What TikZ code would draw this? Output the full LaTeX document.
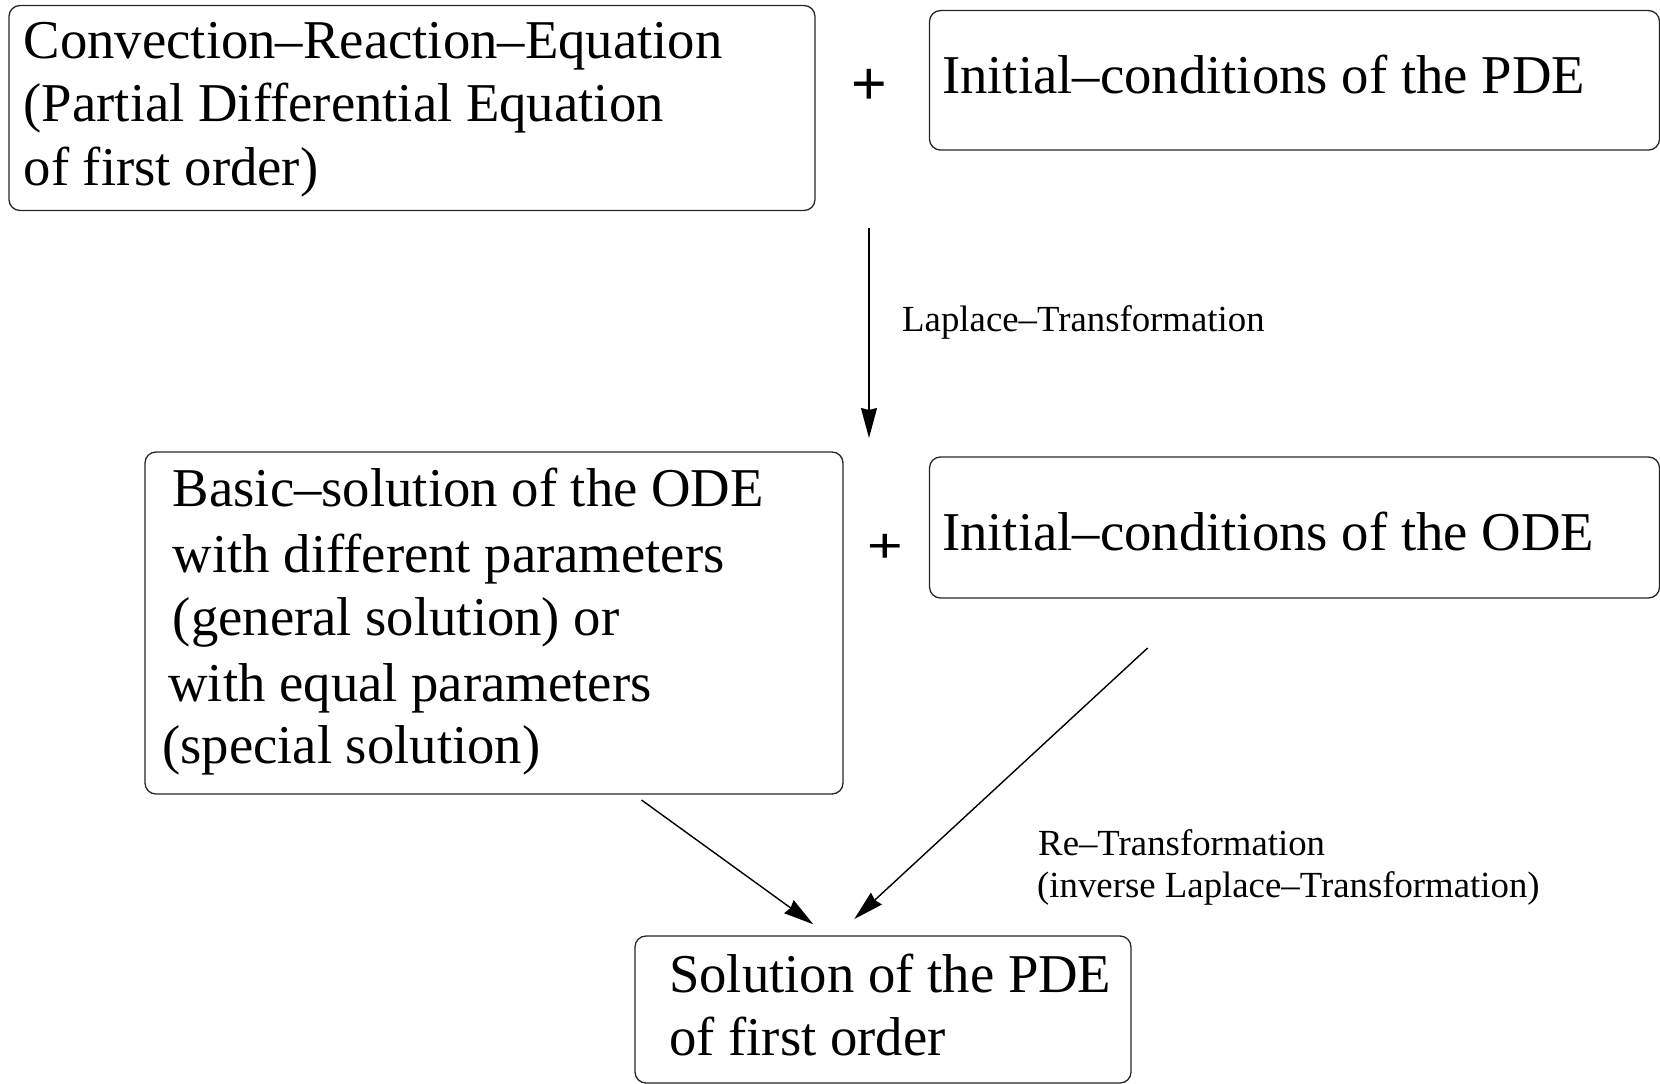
\documentclass[tikz,border=0pt]{standalone}
\usepackage{fontspec}
\usepackage{graphicx}
\setmainfont{Liberation Serif}
\newfontfamily\plusfamily{Liberation Sans}
\usetikzlibrary{arrows.meta}
\newcommand{\bigtxt}{\fontsize{54.7}{63}\selectfont}
\newcommand{\smalltxt}{\fontsize{36.8}{42}\selectfont}
\newcommand{\plustxt}{\plusfamily\fontsize{61}{63}\selectfont}
\begin{document}
\begin{tikzpicture}[x=1pt,y=-1pt,
  box/.style={draw=black!85, line width=1.3pt, rounded corners=11pt, inner sep=0pt},
  big/.style={font=\bigtxt, anchor=base west, inner sep=0pt},
  lbl/.style={font=\smalltxt, anchor=base west, inner sep=0pt},
  plus/.style={font=\plustxt, anchor=base, inner sep=0pt},
  arr/.style={line width=1.4pt, -{Stealth[length=30pt,width=16pt,inset=2pt]}}]
\useasboundingbox (0,0) rectangle (1660,1084);
% boxes
\node[box, minimum width=806pt, minimum height=205pt] (A) at (412,108) {};
\node[box, minimum width=730pt, minimum height=139.5pt] (B) at (1294.5,80.3) {};
\node[box, minimum width=698pt, minimum height=342pt] (C) at (494,623) {};
\node[box, minimum width=730pt, minimum height=141pt] (D) at (1294.5,527.5) {};
\node[box, minimum width=496pt, minimum height=147pt] (E) at (883,1009.5) {};
% texts
\node[big] (a1) at (23.5,58.3) {Convection–Reaction–Equation};
\node[big] (a2) at (23.5,121.7) {(Partial Differential Equation};
\node[big] (a3) at (23.5,185) {of first order)};
\node[big] (b1) at (942,93) {Initial–conditions of the PDE};
\node[plus] (p1) at (869,104.8) {+};
\node[big] (c1) at (172.6,506) {Basic–solution of the ODE};
\node[big] (c2) at (172.6,572) {with different parameters};
\node[big] (c3) at (172.6,635) {(general solution) or};
\node[big] (c4) at (168.3,701) {with equal parameters};
\node[big] (c5) at (162,763) {(special solution)};
\node[big] (d1) at (942,550.6) {Initial–conditions of the ODE};
\node[plus] (p2) at (885,562) {\scalebox{1}[0.8]{+}};
\node[big] (e1) at (669,992) {Solution of the PDE};
\node[big] (e2) at (669,1055.5) {of first order};
% labels
\node[lbl] (l1) at (902,331.7) {Laplace–Transformation};
\node[lbl] (l2) at (1038,855) {Re–Transformation};
\node[lbl] (l3) at (1037,897.4) {(inverse Laplace–Transformation)};
% connector ends
\coordinate (v0) at (869,228);
\coordinate (v1) at (869,438);
\coordinate (s0) at (641.5,800);
\coordinate (s1) at (813.3,924.3);
\coordinate (t0) at (1147.6,648);
\coordinate (t1) at (854.3,919);
\draw[arr] (v0) -- (v1);
\draw[arr] (s0) -- (s1);
\draw[arr] (t0) -- (t1);
\end{tikzpicture}
\end{document}
